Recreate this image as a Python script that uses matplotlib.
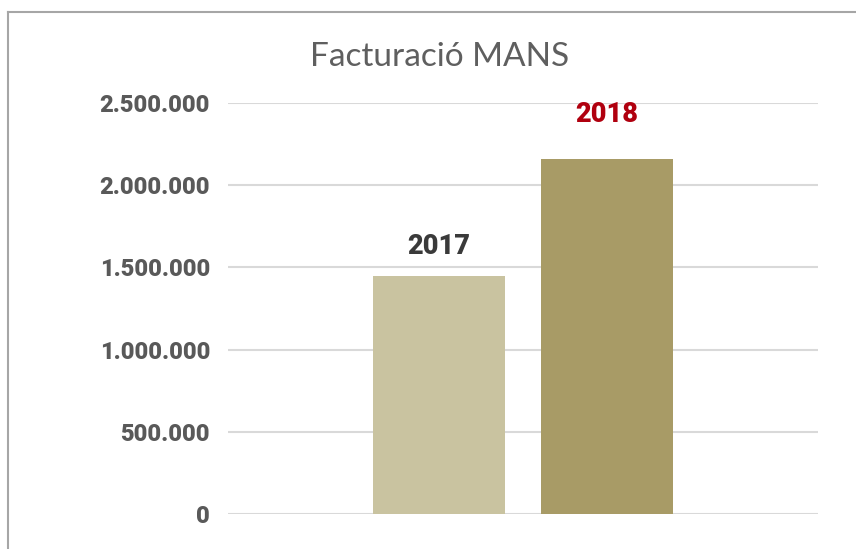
import matplotlib.pyplot as plt
from matplotlib.lines import Line2D
from matplotlib.ticker import FuncFormatter

# data
series = ["2017", "2018"]
values = [1448000, 2159000]
bar_colors = ["#c9c3a0", "#a89b66"]
label_colors = ["#3a3a3a", "#b0000f"]
yticks = [0, 500000, 1000000, 1500000, 2000000, 2500000]

W, H = 856, 549
fig = plt.figure(figsize=(W / 100, H / 100), dpi=100)

# frame of the chart area (cut off at right and bottom)
fig.add_artist(Line2D([8 / W, 8 / W], [0, 1 - 12 / H], color="#a6a6a6", lw=1.5))
fig.add_artist(Line2D([8 / W, 1], [1 - 12 / H, 1 - 12 / H], color="#a6a6a6", lw=1.5))

ax = fig.add_axes([228 / W, 1 - 514 / H, (818 - 228) / W, (514 - 103) / H])

x = list(range(len(series)))
ax.bar(x, values, width=0.79, color=bar_colors, zorder=3)
ax.set_xlim(-1.256, 2.256)
ax.set_ylim(0, 2500000)

# labels sit at different heights above each bar in the original
label_offsets = [21, 32]
for xi, v, name, c, off in zip(x, values, series, label_colors, label_offsets):
    ax.annotate(name, (xi, v), xytext=(0, off), textcoords="offset points",
                ha="center", va="center", fontsize=19.5, fontweight="black",
                color=c, family="Roboto", annotation_clip=False)

ax.set_yticks(yticks)
ax.yaxis.set_major_formatter(FuncFormatter(lambda v, p: f"{int(v):,}".replace(",", ".")))
ax.grid(axis="y", color="#d9d9d9", lw=1.5, zorder=0)
ax.tick_params(axis="y", length=0, pad=13, labelsize=17, labelcolor="#595959")
for lab in ax.get_yticklabels():
    lab.set_fontweight("black")
    lab.set_family("Roboto")
ax.set_xticks([])
for s in ax.spines.values():
    s.set_visible(False)

fig.text(440 / W, 1 - 57 / H, "Facturació MANS", ha="center", va="center",
         fontsize=24, color="#5f5f5f", family="Lato", fontweight="normal")

fig.savefig("out.png", dpi=100)
